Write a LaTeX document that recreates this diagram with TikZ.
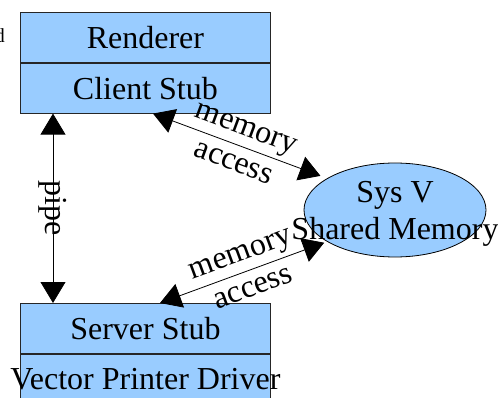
\documentclass[tikz,border=0pt]{standalone}
\usepackage{fontspec}
\setmainfont{Liberation Serif}
\usepackage{tikz}
\usetikzlibrary{positioning, shapes.geometric, arrows.meta}
\definecolor{boxblue}{HTML}{99CCFF}
\tikzstyle{arrow} = [line width=0.8pt, {Triangle[length=21pt,width=25pt]}-{Triangle[length=21pt,width=25pt]}]

\begin{document}
\begin{tikzpicture}[
    x=1pt, y=-1pt,
    font=\fontsize{32}{37}\selectfont,
    layer/.style={draw=black!85, fill=boxblue, line width=0.8pt, minimum width=250pt, minimum height=50pt, inner sep=0pt},
    shmem/.style={ellipse, draw=black, fill=boxblue, line width=0.8pt, minimum width=182pt, minimum height=94pt, inner sep=0pt}
  ]
  \useasboundingbox (0,0) rectangle (498,398);

  % client side
  \node[layer, anchor=north west] (rend) at (20,12) {Renderer};
  \node[layer, below=0pt of rend] (client) {Client Stub};

  % server side
  \node[layer, anchor=north west] (server) at (20,303) {Server Stub};
  \node[layer, below=0pt of server] (driver) {\makebox[0pt]{Vector Printer Driver}};

  % shared memory
  \node[shmem] (shm) at (395,210) {};
  \node[align=center, inner sep=0pt, yshift=-4pt] (shmtext) at (shm.center) {Sys V\\Shared Memory};

  % cut-off text at the left edge
  \node[font=\fontsize{20}{24}\selectfont, anchor=base east, inner sep=0pt] (edge) at (5,43) {d};

  \coordinate (pipex) at (53,0);
  \coordinate (upx) at (153,0);
  \coordinate (lowx) at (160,0);

  \draw[arrow] (client.south -| pipex) -- node[rotate=-90, inner sep=0pt] (pipe) {pipe} (server.north -| pipex);
  \draw[arrow, shorten >=7pt] (client.south -| upx) -- node[sloped, align=center, inner sep=0pt] (upmem) {memory\\access} (shm.155);
  \draw[arrow, shorten >=3pt] (server.north -| lowx) -- node[sloped, align=center, inner sep=0pt, pos=0.52] (lowmem) {memory\\access} (shm.205);

\end{tikzpicture}
\end{document}
